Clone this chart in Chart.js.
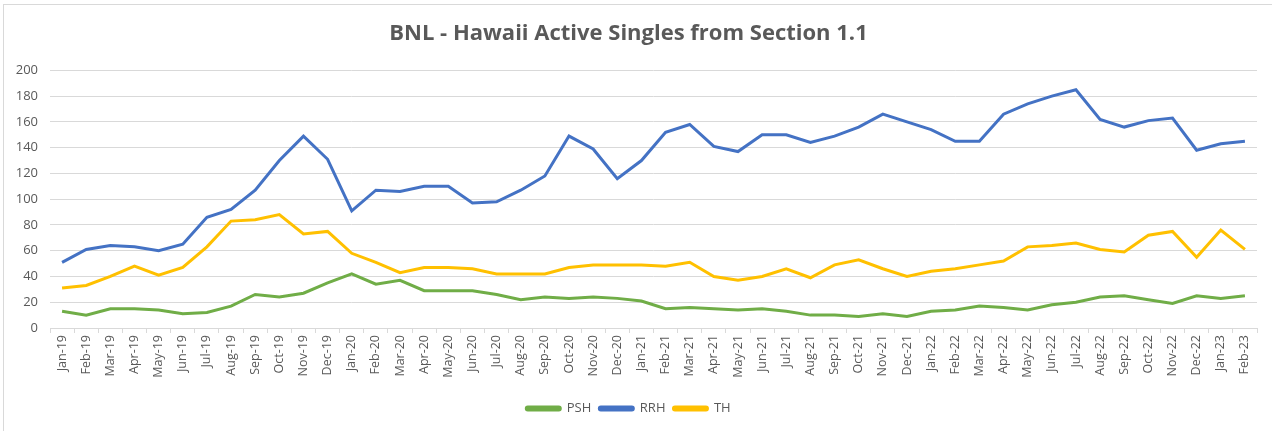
<!DOCTYPE html>
<html>
<head>
<meta charset="utf-8">
<script src="https://cdn.jsdelivr.net/npm/chart.js@4/dist/chart.umd.min.js"></script>
<style>
html,body{margin:0;padding:0;background:#fff;}
#wrap{position:absolute;left:0;top:0;width:1272px;height:431px;}
#frame{position:absolute;left:3px;top:4px;width:1269px;height:427px;border-left:1px solid #d9d9d9;border-top:1px solid #d9d9d9;box-sizing:border-box;pointer-events:none;}
canvas{position:absolute;left:0;top:0;}
</style>
</head>
<body>
<div id="wrap">
<canvas id="c" width="1272" height="431"></canvas>
<div id="frame"></div>
</div>
<script>
const months = ["Jan-19","Feb-19","Mar-19","Apr-19","May-19","Jun-19","Jul-19","Aug-19","Sep-19","Oct-19","Nov-19","Dec-19",
"Jan-20","Feb-20","Mar-20","Apr-20","May-20","Jun-20","Jul-20","Aug-20","Sep-20","Oct-20","Nov-20","Dec-20",
"Jan-21","Feb-21","Mar-21","Apr-21","May-21","Jun-21","Jul-21","Aug-21","Sep-21","Oct-21","Nov-21","Dec-21",
"Jan-22","Feb-22","Mar-22","Apr-22","May-22","Jun-22","Jul-22","Aug-22","Sep-22","Oct-22","Nov-22","Dec-22",
"Jan-23","Feb-23"];
const psh = [13,10,15,15,14,11,12,17,26,24,27,35,
42,34,37,29,29,29,26,22,24,23,24,23,
21,15,16,15,14,15,13,10,10,9,11,9,
13,14,17,16,14,18,20,24,25,22,19,25,
23,25];
const rrh = [51,61,64,63,60,65,86,92,107,130,149,131,
91,107,106,110,110,97,98,107,118,149,139,116,
130,152,158,141,137,150,150,144,149,156,166,160,
154,145,145,166,174,180,185,162,156,161,163,138,
143,145];
const th = [31,33,40,48,41,47,63,83,84,88,73,75,
58,51,43,47,47,46,42,42,42,47,49,49,
49,48,51,40,37,40,46,39,49,53,46,40,
44,46,49,52,63,64,66,61,59,72,75,55,
76,61];
const yTicks = {min:0, max:200, step:20};
const titleText = "BNL - Hawaii Active Singles from Section 1.1";

const txt = "#595959";
const grid = "#d9d9d9";
const fontFam = "'Open Sans', 'Liberation Sans', sans-serif";

new Chart(document.getElementById('c'), {
  type: 'line',
  data: {
    labels: months,
    datasets: [
      {label:'PSH', data:psh, borderColor:'#70AD47', backgroundColor:'#70AD47', borderWidth:3, pointRadius:0, tension:0},
      {label:'RRH', data:rrh, borderColor:'#4472C4', backgroundColor:'#4472C4', borderWidth:3, pointRadius:0, tension:0},
      {label:'TH', data:th, borderColor:'#FFC000', backgroundColor:'#FFC000', borderWidth:3, pointRadius:0, tension:0}
    ]
  },
  options: {
    responsive:false,
    animation:false,
    devicePixelRatio:1,
    layout:{padding:{left:0,right:15,top:0,bottom:6}},
    plugins:{
      title:{display:true, text:titleText, color:txt,
        font:{family:fontFam, size:22, weight:'bold', lineHeight:1.2}, padding:{top:21,bottom:23}},
      legend:{position:'bottom', labels:{color:txt, font:{family:fontFam,size:13},
        boxWidth:34, boxHeight:3, padding:8, useBorderRadius:true, borderRadius:1.5}},
      tooltip:{enabled:false}
    },
    scales:{
      x:{
        offset:true,
        grid:{offset:true, drawOnChartArea:false, color:grid, tickLength:5, tickColor:grid},
        border:{color:grid},
        ticks:{color:txt, font:{family:fontFam,size:12.5}, maxRotation:90, minRotation:90, autoSkip:false, padding:2},
        afterFit:(s)=>{s.height=66;}
      },
      y:{
        min:yTicks.min, max:yTicks.max,
        ticks:{stepSize:yTicks.step, color:txt, font:{family:fontFam,size:13}, padding:12},
        grid:{color:grid, drawTicks:false},
        border:{display:false},
        afterFit:(s)=>{s.width=50;}
      }
    }
  }
});
</script>
</body>
</html>
